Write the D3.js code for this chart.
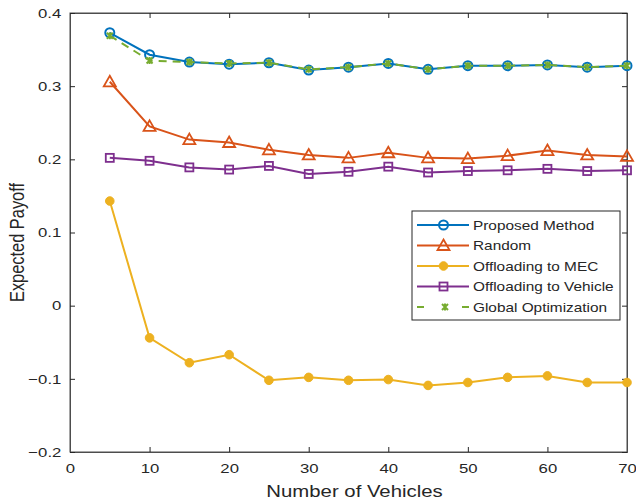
<!DOCTYPE html>
<html><head><meta charset="utf-8">
<script src="https://cdn.jsdelivr.net/npm/d3@7"></script>
<style>body{margin:0;background:#fff}svg{display:block}text{font-family:"Liberation Sans",Arial,sans-serif;fill:#262626}</style>
</head><body><svg id="c" width="636" height="503"></svg>
<script>
const vehicles = [5,10,15,20,25,30,35,40,45,50,55,60,65,70];
const proposed = [0.373,0.343,0.333,0.330,0.332,0.322,0.326,0.331,0.323,0.328,0.328,0.329,0.326,0.328];
const randomS  = [0.306,0.245,0.227,0.223,0.213,0.206,0.202,0.209,0.202,0.201,0.205,0.212,0.206,0.204];
const mec      = [0.143,-0.044,-0.078,-0.067,-0.102,-0.098,-0.102,-0.101,-0.109,-0.105,-0.098,-0.096,-0.105,-0.105];
const vehicle  = [0.202,0.198,0.189,0.186,0.191,0.180,0.183,0.190,0.182,0.184,0.185,0.187,0.184,0.185];
const globalOpt= [0.369,0.335,0.333,0.331,0.332,0.323,0.326,0.331,0.323,0.328,0.328,0.329,0.326,0.328];
const seriesNames = ["Proposed Method","Random","Offloading to MEC","Offloading to Vehicle","Global Optimization"];
const xTicks = [0,10,20,30,40,50,60,70];
const yTicks = [-0.2,-0.1,0,0.1,0.2,0.3,0.4];

const series = [
  {name:seriesNames[0], vals:proposed, color:"#0072BD", marker:"circle", dash:null},
  {name:seriesNames[1], vals:randomS, color:"#D95319", marker:"triangle", dash:null},
  {name:seriesNames[2], vals:mec, color:"#EDB120", marker:"dot", dash:null},
  {name:seriesNames[3], vals:vehicle, color:"#7E2F8E", marker:"square", dash:null},
  {name:seriesNames[4], vals:globalOpt, color:"#77AC30", marker:"x", dash:"8,6"}
];

const SX = 1.24; // horizontal text stretch seen in the reference
const svg = d3.select("#c");
const L=70, R=627, T=13, B=452;
const x = d3.scaleLinear().domain([0,70]).range([L,R]);
const y = d3.scaleLinear().domain([-0.2,0.4]).range([B,T]);
const axisCol="#262626";

const g = svg.append("g");
g.append("rect").attr("x",L).attr("y",T).attr("width",R-L).attr("height",B-T)
  .attr("fill","none").attr("stroke","#4d4d4d").attr("stroke-width",1);

const fmt = d => d===0?"0":d3.format(".1f")(d);
const xa = g.append("g").attr("transform",`translate(0,${B})`)
  .call(d3.axisBottom(x).tickValues(xTicks).tickSize(-5).tickPadding(11).tickFormat(d3.format("d")));
const xt = g.append("g").attr("transform",`translate(0,${T})`)
  .call(d3.axisTop(x).tickValues(xTicks).tickSize(-5).tickFormat(""));
const ya = g.append("g").attr("transform",`translate(${L},0)`)
  .call(d3.axisLeft(y).tickValues(yTicks).tickSize(-5).tickPadding(7).tickFormat(fmt));
const yr = g.append("g").attr("transform",`translate(${R},0)`)
  .call(d3.axisRight(y).tickValues(yTicks).tickSize(-5).tickFormat(""));
[xa,xt,ya,yr].forEach(a=>{
  a.select(".domain").attr("stroke","#4d4d4d");
  a.selectAll(".tick line").attr("stroke","#262626");
  a.selectAll(".tick text").attr("font-size",13.5).attr("font-family","Liberation Sans, Arial, sans-serif").attr("fill",axisCol)
    .attr("transform",`scale(${SX},1)`);
});

g.append("g").attr("transform",`translate(${(L+R)/2+6},497) scale(${SX},1)`)
  .append("text").attr("text-anchor","middle").attr("font-size",16.4).text("Number of Vehicles");
g.append("g").attr("transform",`translate(24,${(T+B)/2+10}) rotate(-90) scale(1,${SX})`)
  .append("text").attr("text-anchor","middle").attr("font-size",16.4).text("Expected Payoff");

function drawMarker(sel, type, color){
  if(type==="circle") sel.append("circle").attr("r",4.5).attr("fill","none").attr("stroke",color).attr("stroke-width",2);
  else if(type==="dot") sel.append("circle").attr("r",4.3).attr("fill",color).attr("stroke",color);
  else if(type==="triangle") sel.append("path").attr("d","M0,-6L6,4.5L-6,4.5Z").attr("fill","none").attr("stroke",color).attr("stroke-width",1.8);
  else if(type==="square") sel.append("rect").attr("x",-4).attr("y",-4).attr("width",8).attr("height",8).attr("fill","none").attr("stroke",color).attr("stroke-width",1.8);
  else if(type==="x") sel.append("path").attr("d","M-3,-3L3,3M-3,3L3,-3M0,-3.5L0,3.5").attr("stroke",color).attr("stroke-width",2).attr("fill","none");
}

const line = d3.line().x((d,i)=>x(vehicles[i])).y(d=>y(d));
const order = [2,3,1,0,4];
order.forEach(k=>{
  const s=series[k];
  const sg=g.append("g");
  sg.append("path").attr("d",line(s.vals)).attr("fill","none").attr("stroke",s.color).attr("stroke-width",2)
    .attr("stroke-dasharray",s.dash);
  s.vals.forEach((v,i)=>{
    const m=sg.append("g").attr("transform",`translate(${x(vehicles[i])},${y(v)})`);
    drawMarker(m,s.marker,s.color);
  });
});

// legend
const lg = g.append("g").attr("transform","translate(412,211)");
lg.append("rect").attr("width",208).attr("height",109).attr("fill","#fff").attr("stroke","#262626").attr("stroke-width",1);
series.forEach((s,i)=>{
  const yy=14+i*20.5;
  if(s.dash){
    lg.append("line").attr("x1",5).attr("x2",12).attr("y1",yy).attr("y2",yy).attr("stroke",s.color).attr("stroke-width",2);
    lg.append("line").attr("x1",50).attr("x2",57).attr("y1",yy).attr("y2",yy).attr("stroke",s.color).attr("stroke-width",2);
  } else {
    lg.append("line").attr("x1",5).attr("x2",57).attr("y1",yy).attr("y2",yy).attr("stroke",s.color).attr("stroke-width",2);
  }
  const m=lg.append("g").attr("transform",`translate(${s.dash?33:31.5},${yy})`);
  drawMarker(m,s.marker,s.color);
  lg.append("g").attr("transform",`translate(61,${yy+4.5}) scale(${SX},1)`)
    .append("text").attr("font-size",12.4).text(s.name);
});
</script></body></html>
